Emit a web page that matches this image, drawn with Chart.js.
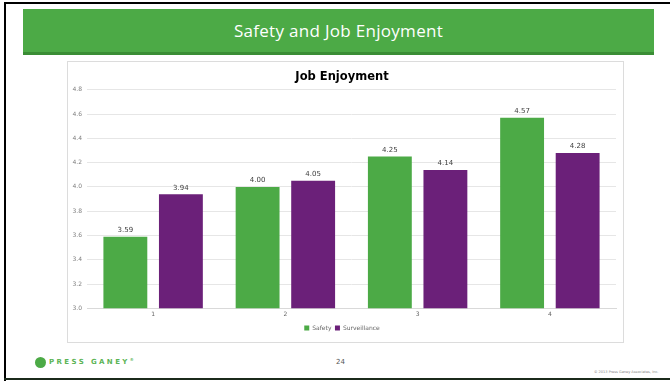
<!DOCTYPE html>
<html>
<head>
<meta charset="utf-8">
<script src="https://cdn.jsdelivr.net/npm/chart.js@4.4.0/dist/chart.umd.min.js"></script>
<style>
  body { margin: 0; background: #fff; }
  #slide { position: relative; width: 670px; height: 381px; overflow: hidden; background: #fff; }
  .borde { position: absolute; background: #000; }
  #header { position: absolute; left: 23px; top: 9px; width: 631px; height: 43px; background: #4caa46;
    border-bottom: 3px solid #3a8d35; color: #fff; font-family: "Open Sans", sans-serif; font-size: 17px;
    letter-spacing: 0.3px; text-align: center; line-height: 43px; }
  #caja { position: absolute; left: 67px; top: 61px; width: 555px; height: 280px; border: 1px solid #dcdcdc; }
  #logo { position: absolute; left: 35px; top: 357px; font-family: "DejaVu Sans", sans-serif; font-size: 7px;
    color: #5bb455; letter-spacing: 2.4px; font-weight: bold; }
  #logo span.circ { display: inline-block; width: 11px; height: 11px; border-radius: 50%; background: #4caa46;
    vertical-align: middle; margin-right: 3px; }
  #pagina { position: absolute; left: 336px; top: 358px; font-family: "DejaVu Sans", sans-serif; font-size: 7px; color: #555; }
  #copy { position: absolute; left: 594px; top: 370px; font-family: "DejaVu Sans", sans-serif; font-size: 3.5px; color: #888; }
</style>
</head>
<body>
<div id="slide">
  <div class="borde" style="left:4px;top:2px;width:666px;height:2px"></div>
  <div class="borde" style="left:4px;top:2px;width:2px;height:379px"></div>
  <div class="borde" style="left:4px;top:378px;width:666px;height:2px;background:#1b2a1b"></div>
  <div id="header">Safety and Job Enjoyment</div>
  <div id="caja"><canvas id="myChart" width="555" height="280"></canvas></div>
  <div id="logo"><span class="circ"></span>PRESS GANEY<sup style="font-size:4px">&reg;</sup></div>
  <div id="pagina">24</div>
  <div id="copy">&copy; 2013 Press Ganey Associates, Inc.</div>
</div>
<script>
const categorias = ["1", "2", "3", "4"];
const valoresSafety = [3.59, 4.00, 4.25, 4.57];
const valoresSurveillance = [3.94, 4.05, 4.14, 4.28];
const ticksY = [3.0, 3.2, 3.4, 3.6, 3.8, 4.0, 4.2, 4.4, 4.6, 4.8];

// etiquetas de valor encima de cada barra
const etiquetasBarras = {
  id: "etiquetasBarras",
  afterDatasetsDraw(chart) {
    const ctx = chart.ctx;
    ctx.save();
    ctx.font = "7px 'DejaVu Sans', sans-serif";
    ctx.fillStyle = "#404040";
    ctx.textAlign = "center";
    ctx.textBaseline = "bottom";
    chart.data.datasets.forEach((ds, i) => {
      chart.getDatasetMeta(i).data.forEach((bar, j) => {
        ctx.fillText(ds.data[j].toFixed(2), bar.x, bar.y - 3);
      });
    });
    ctx.restore();
  }
};

const config = {
  type: "bar",
  data: {
    labels: categorias,
    datasets: [
      { label: "Safety", data: valoresSafety, backgroundColor: "#4caa46", barPercentage: 0.79, categoryPercentage: 0.84 },
      { label: "Surveillance", data: valoresSurveillance, backgroundColor: "#6b2079", barPercentage: 0.79, categoryPercentage: 0.84 }
    ]
  },
  options: {
    responsive: false,
    animation: false,
    layout: { padding: { left: 0, right: 7, top: 8, bottom: 1 } },
    plugins: {
      title: { display: true, text: "Job Enjoyment", color: "#000",
        font: { family: "'DejaVu Sans', sans-serif", size: 11.5, weight: "bold" }, padding: { top: 0, bottom: 6 } },
      legend: { position: "bottom",
        labels: { boxWidth: 5, boxHeight: 5, padding: 3.5, color: "#666", font: { family: "'DejaVu Sans', sans-serif", size: 6 } } },
      tooltip: { enabled: false }
    },
    scales: {
      x: {
        grid: { display: false, drawTicks: false },
        border: { color: "#d9d9d9" },
        ticks: { color: "#666", font: { family: "'DejaVu Sans', sans-serif", size: 6 }, padding: 3 }
      },
      y: {
        min: 3.0, max: 4.8,
        afterFit: (s) => { s.width = 19; },
        afterBuildTicks: (s) => { s.ticks = ticksY.map(v => ({ value: v })); },
        grid: { color: "#e6e6e6", drawTicks: false },
        border: { display: false },
        ticks: { color: "#808080", font: { family: "'DejaVu Sans', sans-serif", size: 6 }, padding: 5,
          callback: (v) => v.toFixed(1) }
      }
    }
  },
  plugins: [etiquetasBarras]
};

new Chart(document.getElementById("myChart"), config);
</script>
</body>
</html>
